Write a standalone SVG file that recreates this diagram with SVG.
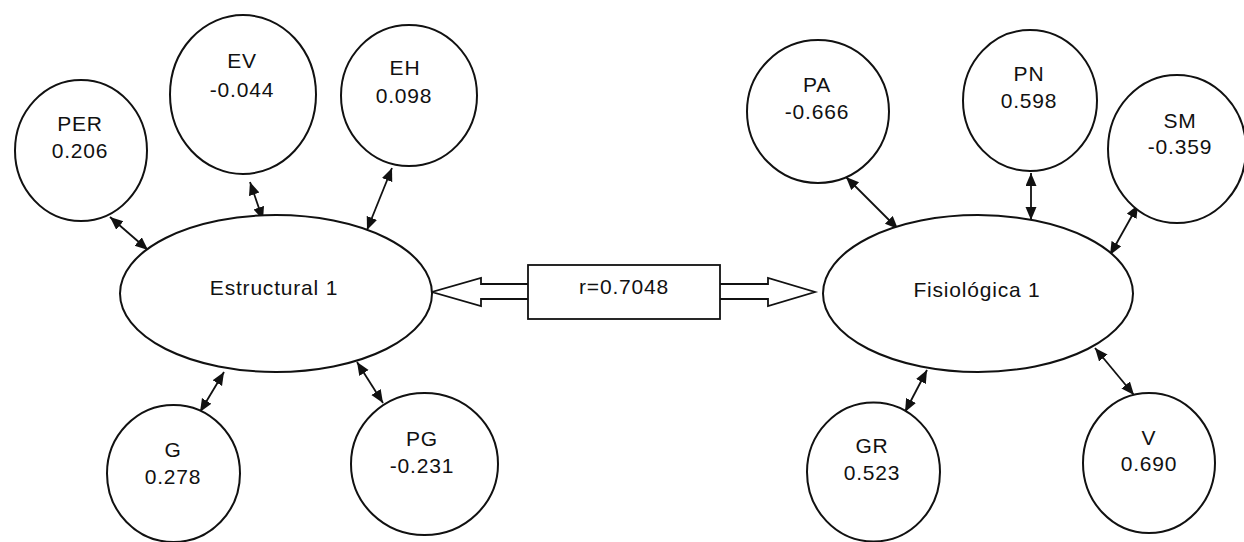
<svg xmlns="http://www.w3.org/2000/svg" width="1244" height="542" viewBox="0 0 1244 542">
<style>
.n{fill:#fff;stroke:#111;stroke-width:2}
.t{font-family:"Liberation Sans",Arial,sans-serif;font-size:21px;letter-spacing:0.8px;fill:#111;text-anchor:middle}
.c{stroke:#111;stroke-width:1.8;fill:none;marker-start:url(#ah);marker-end:url(#ah)}
.b{fill:#fff;stroke:#111;stroke-width:1.8;stroke-linejoin:miter}
</style>
<defs>
<marker id="ah" markerUnits="userSpaceOnUse" markerWidth="14" markerHeight="12" refX="13" refY="5.5" orient="auto-start-reverse">
<path d="M0,0 L13,5.5 L0,11 z" fill="#111"/>
</marker>
</defs>
<rect width="1244" height="542" fill="#fff"/>
<g id="connectors">
<line class="c" x1="110" y1="217" x2="148" y2="250"/>
<line class="c" x1="250" y1="182" x2="263" y2="220"/>
<line class="c" x1="392" y1="168" x2="367" y2="230"/>
<line class="c" x1="224" y1="372" x2="200" y2="412"/>
<line class="c" x1="357" y1="362" x2="383" y2="403"/>
<line class="c" x1="846" y1="177" x2="898" y2="229"/>
<line class="c" x1="1031" y1="173" x2="1031" y2="220"/>
<line class="c" x1="1138" y1="205" x2="1110" y2="255"/>
<line class="c" x1="927" y1="370" x2="905" y2="412"/>
<line class="c" x1="1095" y1="348" x2="1134" y2="395"/>
<polyline class="b" points="528,284 481,284 481,278 432,292 481,306 481,299 528,299"/>
<polyline class="b" points="720,284 768,284 768,278 815,292 768,306 768,299 720,299"/>
</g>
<g id="estructural">
<ellipse class="n" cx="276" cy="293.5" rx="156" ry="78.5"/>
<text class="t" x="274" y="295">Estructural 1</text>
</g>
<g id="fisiologica">
<ellipse class="n" cx="978" cy="293.5" rx="155" ry="78.5"/>
<text class="t" x="977" y="297">Fisiológica 1</text>
</g>
<g id="r">
<rect class="b" x="528" y="265" width="192" height="54"/>
<text class="t" x="624" y="294">r=0.7048</text>
</g>
<g id="PER">
<ellipse class="n" cx="81" cy="150.5" rx="66" ry="70.5"/>
<text class="t" x="80" y="131">PER</text><text class="t" x="80" y="158">0.206</text>
</g>
<g id="EV">
<ellipse class="n" cx="243" cy="94.5" rx="73" ry="79.5"/>
<text class="t" x="242" y="68">EV</text><text class="t" x="242" y="97">-0.044</text>
</g>
<g id="EH">
<ellipse class="n" cx="409" cy="95.5" rx="68" ry="70.5"/>
<text class="t" x="405" y="75">EH</text><text class="t" x="404" y="103">0.098</text>
</g>
<g id="G">
<ellipse class="n" cx="173.5" cy="473.5" rx="66.5" ry="68.5"/>
<text class="t" x="173" y="457">G</text><text class="t" x="173" y="484">0.278</text>
</g>
<g id="PG">
<ellipse class="n" cx="424.5" cy="464" rx="73.5" ry="71"/>
<text class="t" x="422" y="446">PG</text><text class="t" x="422" y="473">-0.231</text>
</g>
<g id="PA">
<ellipse class="n" cx="818" cy="111.5" rx="71" ry="71.5"/>
<text class="t" x="817" y="92">PA</text><text class="t" x="817" y="119">-0.666</text>
</g>
<g id="PN">
<ellipse class="n" cx="1030" cy="100.5" rx="67" ry="70.5"/>
<text class="t" x="1029" y="81">PN</text><text class="t" x="1029" y="108">0.598</text>
</g>
<g id="SM">
<ellipse class="n" cx="1177" cy="149" rx="69" ry="74"/>
<text class="t" x="1180" y="128">SM</text><text class="t" x="1180" y="154">-0.359</text>
</g>
<g id="GR">
<ellipse class="n" cx="873.5" cy="472" rx="66.5" ry="69.5"/>
<text class="t" x="872" y="453">GR</text><text class="t" x="872" y="480">0.523</text>
</g>
<g id="V">
<ellipse class="n" cx="1149" cy="463" rx="66" ry="70"/>
<text class="t" x="1149" y="445">V</text><text class="t" x="1149" y="471">0.690</text>
</g>
</svg>
